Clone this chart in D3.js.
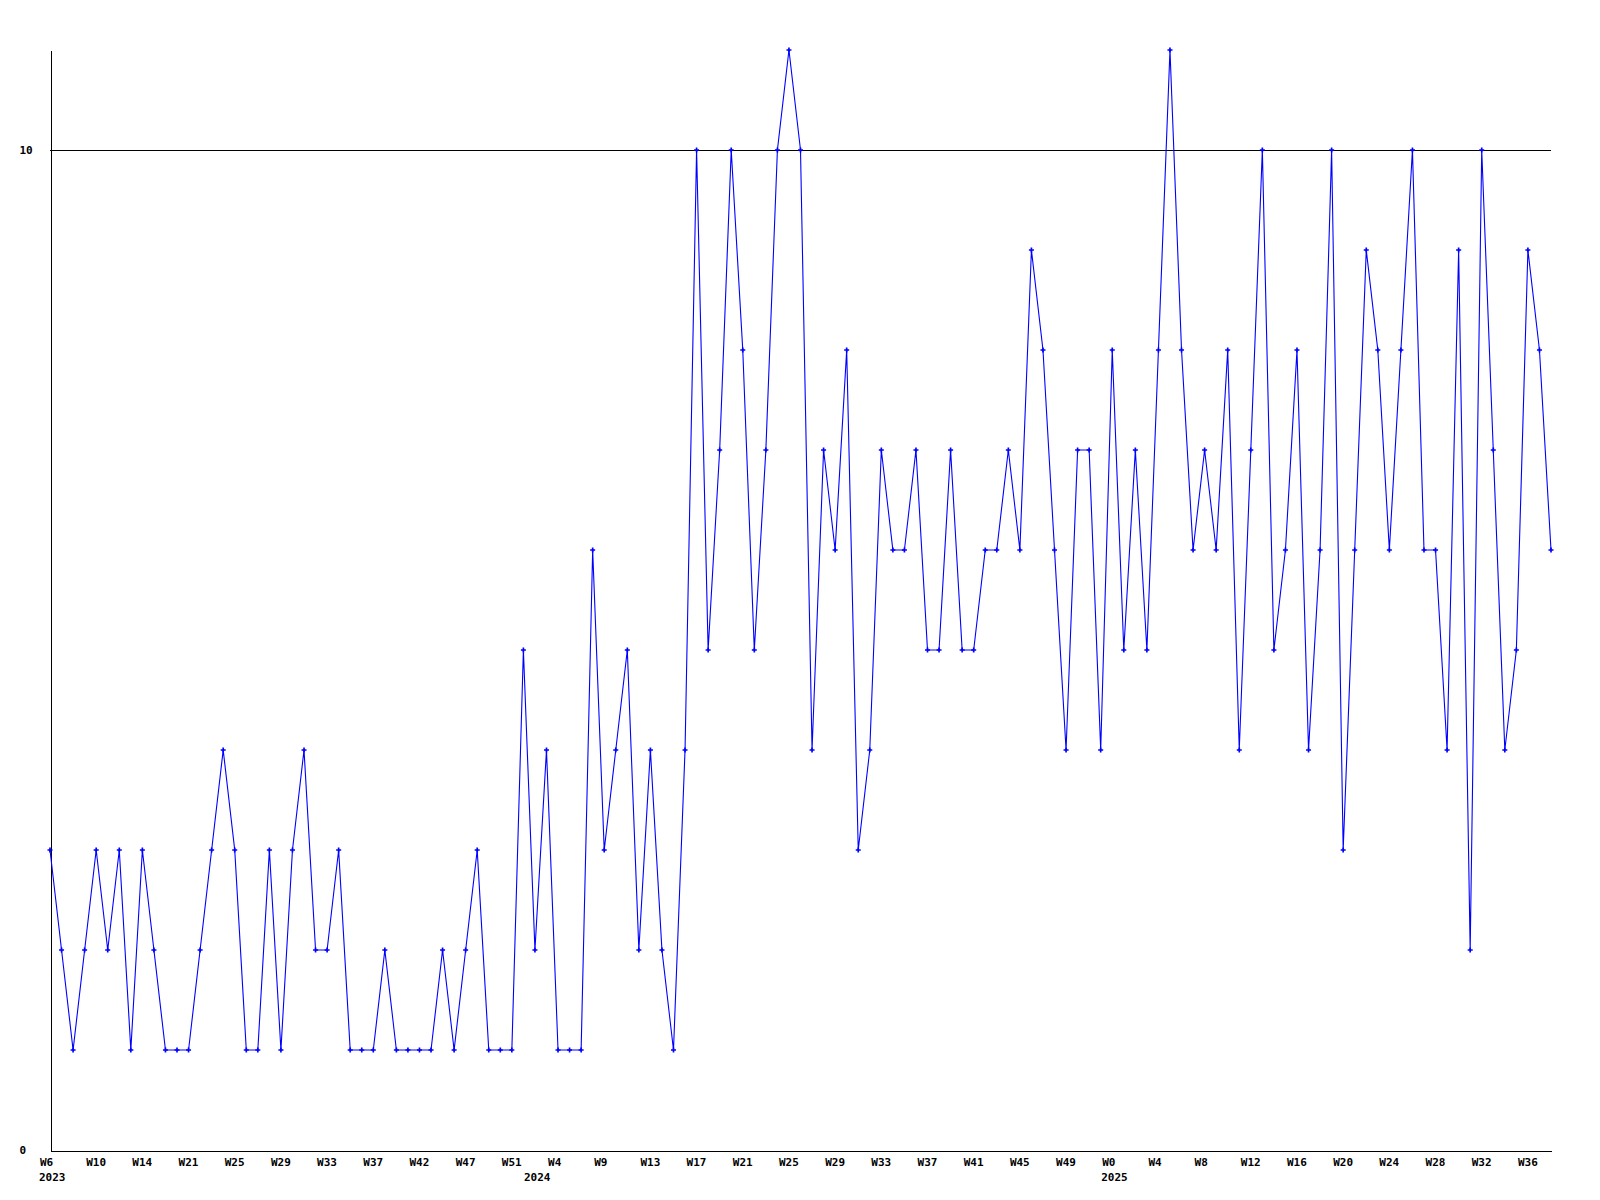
<!DOCTYPE html>
<html>
<head>
<meta charset="utf-8">
<script src="https://cdn.jsdelivr.net/npm/d3@7"></script>
<style>
  html, body { margin: 0; padding: 0; background: #fff; }
  svg { display: block; }
  text { font-family: "DejaVu Sans Mono", "Liberation Mono", monospace; font-weight: bold; font-size: 11px; fill: #000; }
</style>
</head>
<body>
<svg id="chart" width="1600" height="1200"></svg>
<script>
// Weekly values, one per data point (left to right)
const values = [
  3,2,1,2,3,2,3,1,3,2,
  1,1,1,2,3,4,3,1,1,3,
  1,3,4,2,2,3,1,1,1,2,
  1,1,1,1,2,1,2,3,1,1,
  1,5,2,4,1,1,1,6,3,4,
  5,2,4,2,1,4,10,5,7,10,
  8,5,7,10,11,10,4,7,6,8,
  3,4,7,6,6,7,5,5,7,5,
  5,6,6,7,6,9,8,6,4,7,
  7,4,8,5,7,5,8,11,8,6,
  7,6,8,4,7,10,5,6,8,4,
  6,10,3,6,9,8,6,8,10,6,
  6,4,9,2,10,7,4,5,9,8,
  6
];
// Week tick labels, shown at every 4th data point
const weekLabels = ["W6","W10","W14","W21","W25","W29","W33","W37","W42","W47","W51",
  "W4","W9","W13","W17","W21","W25","W29","W33","W37","W41","W45","W49",
  "W0","W4","W8","W12","W16","W20","W24","W28","W32","W36"];
const labelEvery = 4;
// Year labels and the data point where each year starts
const yearLabels = ["2023","2024","2025"];
const yearStarts = [0, 42, 92];
// Y axis labels
const yTicks = [0, 10];
const yMax = 11;

(function () {
const svg = d3.select("#chart");
const mLeft = 50, mRight = 1551, mTop = 50, mBottom = 1150;

const x = d3.scaleLinear().domain([0, values.length - 1]).range([mLeft, mRight]);
const y = d3.scaleLinear().domain([0, yMax]).range([mBottom, mTop]);

// gridline at 10
svg.append("g").selectAll("line").data(yTicks.filter(d => d > 0)).join("line")
  .attr("x1", mLeft).attr("x2", mRight)
  .attr("y1", d => Math.round(y(d)) + 0.5).attr("y2", d => Math.round(y(d)) + 0.5)
  .attr("stroke", "#000").attr("stroke-width", 1).attr("shape-rendering", "crispEdges");

// Y axis
const yAxis = d3.axisLeft(y).tickValues(yTicks).tickSize(0).tickSizeOuter(0).tickFormat(d3.format("d"));
const gy = svg.append("g").attr("transform", `translate(${mLeft + 0.5},0)`).call(yAxis);
gy.attr("font-family", null).attr("font-size", null);
gy.select(".domain").attr("stroke", "#000").attr("shape-rendering", "crispEdges");
gy.selectAll("text").attr("text-anchor", "start").attr("x", -31).attr("dy", "0.32em");

// X axis
const tickIdx = weekLabels.map((_, i) => i * labelEvery);
const xAxis = d3.axisBottom(x).tickValues(tickIdx).tickSize(0).tickSizeOuter(0)
  .tickFormat((d, i) => weekLabels[i]);
const gx = svg.append("g").attr("transform", `translate(0,${mBottom + 0.5})`).call(xAxis);
gx.attr("font-family", null).attr("font-size", null);
gx.select(".domain").attr("stroke", "#000").attr("shape-rendering", "crispEdges");
gx.selectAll("text").attr("text-anchor", "start").attr("x", -10.5).attr("y", 15).attr("dy", 0);

// Year labels
svg.append("g").selectAll("text").data(yearLabels).join("text")
  .attr("x", (d, i) => x(yearStarts[i]) - 11)
  .attr("y", 1180.5)
  .attr("text-anchor", "start")
  .text(d => d);

// Line
const line = d3.line().x((d, i) => x(i)).y(d => y(d));
svg.append("path").datum(values)
  .attr("d", line)
  .attr("fill", "none")
  .attr("stroke", "#0000ff")
  .attr("stroke-width", 1.1);

// Markers
const sym = d3.symbol().type(d3.symbolCross).size(14);
svg.append("g").selectAll("path").data(values).join("path")
  .attr("transform", (d, i) => `translate(${x(i)},${y(d)})`)
  .attr("d", sym)
  .attr("fill", "#0000ff");
})();
</script>
</body>
</html>
